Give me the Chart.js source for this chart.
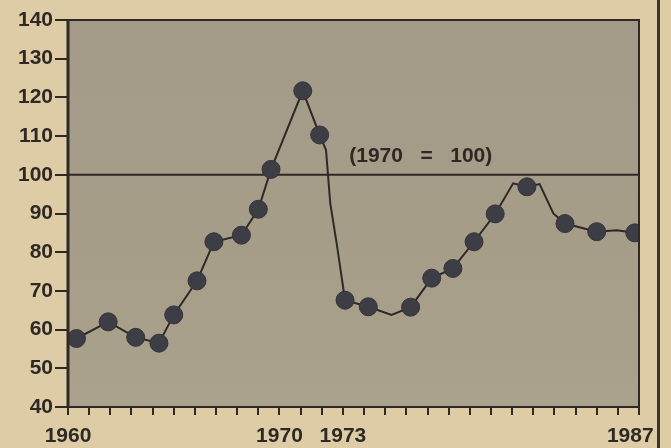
<!DOCTYPE html>
<html>
<head>
<meta charset="utf-8">
<script src="https://cdn.jsdelivr.net/npm/chart.js@4/dist/chart.umd.min.js"></script>
<style>
  html, body { margin: 0; padding: 0; background: #ddcca6; }
  #wrap { position: relative; width: 671px; height: 448px; }
  #frame { position: absolute; left: 657px; top: 0; width: 3px; height: 448px; background: #3b352c; }
</style>
</head>
<body>
<div id="wrap">
  <canvas id="chart" width="671" height="448"></canvas>
  <div id="frame"></div>
</div>
<script>
// values; points with dot = 0 are bends of the line without a marker
const years  = [1960.4, 1961.9, 1963.2, 1964.3, 1965.0, 1966.1, 1966.9, 1968.2, 1969.0, 1969.6,
                1971.1, 1971.9, 1972.2, 1972.4, 1972.7, 1973.1, 1974.2, 1975.3, 1976.2, 1977.2,
                1978.2, 1979.2, 1980.2, 1981.05, 1981.7, 1982.3, 1982.95, 1983.5, 1985.0, 1985.95, 1986.8];
const values = [57.7, 62.0, 58.0, 56.5, 63.8, 72.6, 82.7, 84.4, 91.1, 101.4,
                121.7, 110.3, 106.4, 92.7, 82.4, 67.6, 65.9, 63.8, 65.8, 73.3,
                75.8, 82.7, 89.9, 97.8, 96.9, 97.6, 90.0, 87.4, 85.3, 85.7, 85.0];
const dot    = [1, 1, 1, 1, 1, 1, 1, 1, 1, 1,
                1, 1, 0, 0, 0, 1, 1, 0, 1, 1,
                1, 1, 1, 0, 1, 0, 0, 1, 1, 0, 1];

const baseValue = 100;
const xLabels = [1960, 1970, 1973, 1987];
const yTicks = [40, 50, 60, 70, 80, 90, 100, 110, 120, 130, 140];
const note = '(1970   =   100)';

const ink = '#2e2924';
const font = { family: "'Liberation Sans', Arial, sans-serif", size: 21, weight: 'bold' };

// grey plot field, frame and the note
const plotBox = {
  id: 'plotBox',
  beforeDraw(chart) {
    const { ctx, chartArea: a } = chart;
    const g = ctx.createLinearGradient(0, a.top, 0, a.bottom);
    g.addColorStop(0, '#a39a88');
    g.addColorStop(0.55, '#a69d89');
    g.addColorStop(1, '#aba28d');
    ctx.save();
    ctx.fillStyle = g;
    ctx.fillRect(a.left, a.top, a.right - a.left, a.bottom - a.top);
    ctx.restore();
  },
  afterDatasetsDraw(chart) {
    const { ctx, chartArea: a, scales } = chart;
    ctx.save();
    ctx.strokeStyle = ink;
    ctx.lineWidth = 2;
    ctx.strokeRect(a.left, a.top, a.right - a.left, a.bottom - a.top);
    ctx.lineWidth = 3;
    ctx.beginPath();
    ctx.moveTo(a.left, a.top);
    ctx.lineTo(a.left, a.bottom);
    ctx.stroke();
    ctx.fillStyle = ink;
    ctx.font = 'bold 21px ' + font.family;
    ctx.textBaseline = 'middle';
    ctx.fillText(note, scales.x.getPixelForValue(1973.3), scales.y.getPixelForValue(104.8));
    ctx.restore();
  }
};

new Chart(document.getElementById('chart'), {
  type: 'line',
  data: {
    datasets: [
      {
        data: years.map((x, i) => ({ x: x, y: values[i] })),
        borderColor: ink,
        borderWidth: 2,
        pointRadius: dot.map(d => d ? 9 : 0),
        pointBackgroundColor: '#3d3d45',
        pointBorderColor: '#34343b',
        pointBorderWidth: 1,
        tension: 0
      },
      {
        data: [{ x: 1960, y: baseValue }, { x: 1987, y: baseValue }],
        borderColor: ink,
        borderWidth: 2,
        pointRadius: 0
      }
    ]
  },
  options: {
    responsive: false,
    animation: false,
    layout: { padding: { left: 0, right: 32, top: 20, bottom: 0 } },
    plugins: { legend: { display: false }, tooltip: { enabled: false } },
    scales: {
      x: {
        type: 'linear',
        min: 1960,
        max: 1987,
        afterFit: s => { s.height = 41; s.paddingLeft = 0; s.paddingRight = 0; },
        border: { display: false },
        grid: { drawOnChartArea: false, color: ink, lineWidth: 2, tickLength: 8 },
        ticks: {
          stepSize: 1,
          autoSkip: false,
          maxRotation: 0,
          padding: 9,
          color: ink,
          font: font,
          // last label sits a little left of its tick, clear of the frame
          callback: v => !xLabels.includes(v) ? '' : (v === 1987 ? v + '   ' : String(v))
        }
      },
      y: {
        min: 40,
        max: 140,
        afterFit: s => { s.width = 68; },
        afterBuildTicks: s => { s.ticks = yTicks.map(v => ({ value: v })); },
        border: { display: false },
        grid: { drawOnChartArea: false, color: ink, lineWidth: 2, tickLength: 13 },
        ticks: { padding: 2, color: ink, font: font }
      }
    }
  },
  plugins: [plotBox]
});
</script>
</body>
</html>
